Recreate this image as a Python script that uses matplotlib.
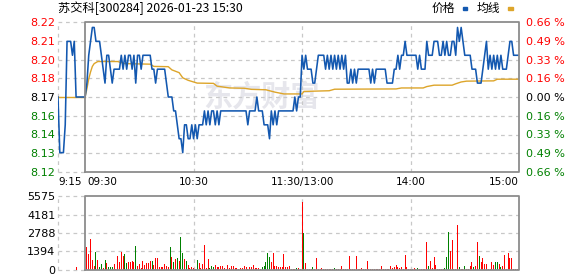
import matplotlib
matplotlib.use("Agg")
import matplotlib.pyplot as plt
from matplotlib.patches import Rectangle

plt.rcParams['font.family'] = ['DejaVu Sans', 'Noto Sans CJK SC']

# ---- data ----
prev_close = 8.17
title = "苏交科[300284] 2026-01-23 15:30"

# call auction 9:15-9:30 (minutes relative to 09:30)
pre_minutes = [-15, -14, -13, -12, -11, -10, -9, -8, -7, -6, -5, 0]
pre_price = [8.17, 8.13, 8.13, 8.13, 8.15, 8.21, 8.21, 8.21, 8.20, 8.21, 8.17, 8.17]
pre_vol_minute = -5
pre_vol = 200

# one value per minute, 09:30 ... 11:30 | 13:01 ... 15:00
price = [
    8.17, 8.18, 8.20, 8.21, 8.22, 8.22, 8.21, 8.21, 8.21, 8.20,
    8.19, 8.18, 8.20, 8.20, 8.19, 8.18, 8.19, 8.19, 8.19, 8.19,
    8.20, 8.19, 8.20, 8.19, 8.20, 8.20, 8.19, 8.20, 8.18, 8.20,
    8.20, 8.19, 8.20, 8.20, 8.20, 8.20, 8.20, 8.19, 8.19, 8.18,
    8.19, 8.19, 8.19, 8.19, 8.19, 8.18, 8.17, 8.17, 8.17, 8.16,
    8.16, 8.15, 8.14, 8.14, 8.13, 8.15, 8.15, 8.14, 8.14, 8.15,
    8.14, 8.15, 8.14, 8.15, 8.15, 8.15, 8.16, 8.15, 8.16, 8.15,
    8.16, 8.16, 8.15, 8.16, 8.15, 8.16, 8.16, 8.16, 8.16, 8.16,
    8.16, 8.16, 8.16, 8.16, 8.16, 8.16, 8.16, 8.16, 8.16, 8.16,
    8.15, 8.16, 8.16, 8.16, 8.16, 8.17, 8.16, 8.16, 8.16, 8.15,
    8.15, 8.15, 8.14, 8.16, 8.15, 8.16, 8.15, 8.16, 8.16, 8.16,
    8.16, 8.16, 8.16, 8.16, 8.16, 8.16, 8.17, 8.16, 8.17, 8.17,
    8.20, 8.19, 8.20, 8.19, 8.19, 8.19, 8.18, 8.18, 8.19, 8.20,
    8.20, 8.20, 8.20, 8.19, 8.20, 8.19, 8.20, 8.19, 8.20, 8.19,
    8.20, 8.19, 8.20, 8.19, 8.20, 8.18, 8.18, 8.19, 8.18, 8.19,
    8.18, 8.19, 8.19, 8.19, 8.19, 8.19, 8.19, 8.19, 8.18, 8.19,
    8.18, 8.19, 8.19, 8.19, 8.19, 8.19, 8.19, 8.18, 8.18, 8.18,
    8.18, 8.19, 8.19, 8.20, 8.19, 8.20, 8.20, 8.21, 8.20, 8.20,
    8.20, 8.20, 8.20, 8.20, 8.19, 8.20, 8.19, 8.19, 8.19, 8.21,
    8.20, 8.20, 8.20, 8.21, 8.21, 8.21, 8.20, 8.20, 8.21, 8.20,
    8.21, 8.20, 8.20, 8.21, 8.21, 8.20, 8.22, 8.21, 8.22, 8.21,
    8.20, 8.20, 8.20, 8.20, 8.19, 8.19, 8.19, 8.18, 8.18, 8.18,
    8.19, 8.20, 8.21, 8.19, 8.20, 8.19, 8.20, 8.19, 8.20, 8.19,
    8.20, 8.19, 8.19, 8.19, 8.20, 8.21, 8.21, 8.20, 8.20, 8.20,
    8.20,
]

# average price line, read at the minutes where it changes
avg_minutes = [0, 1, 2, 3, 4, 5, 7, 18, 22, 36, 38, 46, 48, 52, 54, 57, 62, 71,
               73, 80, 88, 92, 100, 102, 105, 110, 120, 121, 135, 138, 172, 175,
               187, 189, 193, 203, 205, 208, 211, 226, 228, 240]
avg_price = [8.170, 8.176, 8.183, 8.188, 8.192, 8.194, 8.1955, 8.1955, 8.1940,
             8.1936, 8.1920, 8.1918, 8.1895, 8.1875, 8.1838, 8.1820, 8.1800,
             8.1798, 8.1778, 8.1765, 8.1763, 8.1755, 8.1752, 8.1745, 8.1735,
             8.1722, 8.1722, 8.1740, 8.1745, 8.1756, 8.1758, 8.1765, 8.1765,
             8.1775, 8.1785, 8.1785, 8.1795, 8.1808, 8.1814, 8.1816, 8.1828,
             8.1828]

volume = [
    0, 1760, 1200, 2330, 750, 300, 1380, 750, 200, 450,
    150, 750, 500, 200, 200, 200, 450, 100, 1050, 600,
    1380, 1080, 1200, 500, 600, 600, 680, 600, 1800, 300,
    430, 180, 680, 380, 500, 500, 680, 680, 380, 880,
    900, 250, 200, 200, 450, 330, 250, 1700, 1000, 600,
    830, 880, 680, 2460, 1250, 830, 680, 380, 130, 200,
    130, 100, 750, 550, 130, 450, 1880, 130, 830, 180,
    300, 250, 380, 250, 200, 300, 300, 180, 100, 380,
    180, 300, 300, 150, 120, 100, 150, 120, 300, 250,
    100, 200, 200, 380, 130, 150, 130, 100, 200, 300,
    600, 1300, 1000, 600, 1300, 300, 300, 200, 250, 200,
    1200, 250, 200, 300, 100, 100, 100, 150, 120, 100,
    5130, 2800, 550, 100, 100, 80, 200, 100, 930, 80,
    100, 150, 80, 100, 80, 100, 80, 100, 150, 80,
    100, 80, 330, 80, 100, 80, 1080, 80, 100, 80,
    1050, 80, 100, 150, 80, 100, 700, 80, 100, 80,
    80, 100, 80, 100, 300, 80, 100, 80, 100, 300,
    150, 200, 380, 200, 150, 200, 100, 1130, 200, 100,
    80, 80, 150, 80, 130, 80, 100, 80, 100, 2100,
    300, 700, 150, 950, 380, 80, 80, 80, 80, 180,
    950, 2830, 1430, 2260, 100, 80, 3390, 200, 80, 100,
    300, 100, 80, 300, 600, 200, 300, 2100, 1050, 600,
    900, 450, 450, 100, 100, 600, 350, 600, 600, 450,
    200, 300, 1100, 100, 1300, 900, 900, 100, 100, 100,
    2060,
]
# minutes whose volume bar is green (price fell)
down_minutes = [6, 8, 9, 11, 13, 14, 15, 22, 23, 28, 37, 47, 49, 51, 53, 54, 56,
                62, 69, 70, 71, 98, 99, 100, 101, 102, 117, 121, 126, 138, 184,
                190, 199, 200, 201, 204, 207, 210, 215, 218, 227, 228, 230]

price_labels = ["8.12", "8.13", "8.14", "8.16", "8.17", "8.18", "8.20", "8.21", "8.22"]
pct_labels = ["0.66 %", "0.49 %", "0.33 %", "0.16 %", "0.00 %",
              "0.16 %", "0.33 %", "0.49 %", "0.66 %"]
time_ticks = [-15, 0, 60, 120, 180, 240]
time_labels = ["9:15", "09:30", "10:30", "11:30/13:00", "14:00", "15:00"]
vol_ticks = [0, 1394, 2788, 4181, 5575]

# ---- styling ----
BLUE = '#1358b0'
GOLD = '#dda52a'
RED = '#ff0000'
GREEN = '#008000'
GRID = '#c8c8c8'
BOX = '#8c8c8c'

W, H = 578, 276
fig = plt.figure(figsize=(W / 100, H / 100), dpi=100)
ax = fig.add_axes([58 / W, 1 - 172 / H, 461 / W, 150 / H])
axv = fig.add_axes([58 / W, 1 - 270 / H, 461 / W, 74 / H])

span = prev_close * 0.0066
lo, hi = prev_close - span, prev_close + span
levels = [prev_close + span * k / 4 for k in range(-4, 5)]
minutes = list(range(len(price)))


def frame(a, y0, y1):
    for s in a.spines.values():
        s.set_visible(False)
    a.set_xlim(-15, 240)
    a.set_ylim(y0, y1)
    a.set_xticks([])
    a.tick_params(axis='y', length=0, pad=2, labelsize=7.5)
    kw = dict(color=GRID, lw=0.9, ls=(0, (3, 3)), zorder=1, clip_on=False)
    for t in [-15, 60, 120, 180]:
        a.plot([t, t], [y0, y1], **kw)
    a.plot([-15, 0], [y0, y0], **kw)
    a.plot([-15, 0], [y1, y1], **kw)
    a.plot([0, 240, 240, 0, 0], [y0, y0, y1, y1, y0], color=BOX, lw=1.3,
           zorder=4, clip_on=False)


# ---- price panel ----
frame(ax, lo, hi)
for v in levels[1:-1]:
    ax.plot([-15, 240], [v, v], color=GRID, lw=0.9, ls=(0, (3, 3)), zorder=1)

ax.text(0.4425, 0.50, "东方财富", transform=ax.transAxes, ha='center', va='center',
        fontsize=21, fontweight='bold', color='#e6e6ec', zorder=0.5,
        family=['Noto Sans CJK SC'])

ax.plot(pre_minutes, pre_price, color=BLUE, lw=1.15, zorder=3)
ax.plot([-15, 0], [prev_close, prev_close], color=GOLD, lw=1.0, zorder=2)
ax.plot(avg_minutes, avg_price, color=GOLD, lw=1.0, zorder=2)
ax.plot(minutes, price, color=BLUE, lw=1.15, zorder=3)

lev_colors = [GREEN] * 4 + ['#000000'] + [RED] * 4
ax.set_yticks(levels)
ax.set_yticklabels(price_labels, fontsize=8)
for lab, c in zip(ax.get_yticklabels(), lev_colors):
    lab.set_color(c)

ax2 = ax.twinx()
for s in ax2.spines.values():
    s.set_visible(False)
ax2.set_ylim(lo, hi)
ax2.set_yticks(levels)
ax2.set_yticklabels(pct_labels, fontsize=8)
ax2.tick_params(axis='y', length=0, pad=5)
for lab, c in zip(ax2.get_yticklabels(), lev_colors):
    lab.set_color(c)

for t, lab in zip(time_ticks, time_labels):
    ha = 'center'
    if t <= 0:
        ha = 'left'
    elif t == 240:
        ha = 'right'
    x = t + 1 if t == 0 else t
    ax.text(x, -0.068, lab, transform=ax.get_xaxis_transform(), ha=ha,
            va='center', fontsize=7.5)

# ---- volume panel ----
frame(axv, 0, vol_ticks[-1])
for v in vol_ticks[1:-1]:
    axv.plot([-15, 240], [v, v], color=GRID, lw=0.9, ls=(0, (3, 3)), zorder=1)
bar_colors = [GREEN if m in down_minutes else RED for m in minutes]
axv.bar(minutes, volume, width=0.55, color=bar_colors, zorder=3)
axv.bar([pre_vol_minute], [pre_vol], width=0.55, color=RED, zorder=3)
axv.set_yticks(vol_ticks)
axv.set_yticklabels([str(v) for v in vol_ticks], fontsize=8)

# ---- title and legend ----
fig.text(58 / W, 1 - 8 / H, title, ha='left', va='center', fontsize=8.8,
         family=['Noto Sans CJK SC', 'DejaVu Sans'])
fig.text(432 / W, 1 - 8 / H, "价格", ha='left', va='center', fontsize=8.5,
         family=['Noto Sans CJK SC'])
fig.text(477 / W, 1 - 8 / H, "均线", ha='left', va='center', fontsize=8.5,
         family=['Noto Sans CJK SC'])
fig.patches.append(Rectangle((463 / W, 1 - 10 / H), 4 / W, 3 / H,
                             transform=fig.transFigure, color=BLUE))
fig.patches.append(Rectangle((508 / W, 1 - 9.5 / H), 5 / W, 2 / H,
                             transform=fig.transFigure, color=GOLD))

fig.savefig("out.png", dpi=100)
